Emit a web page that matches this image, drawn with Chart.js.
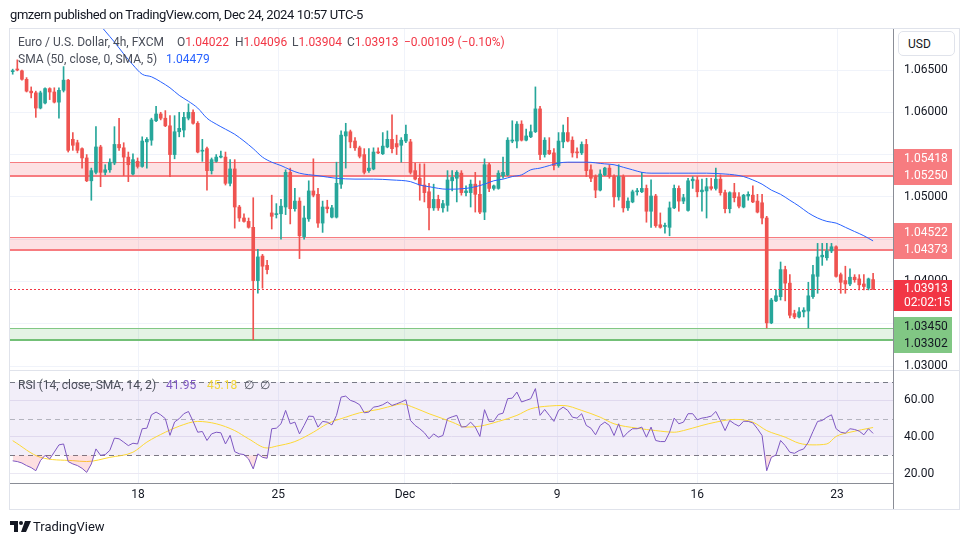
<!DOCTYPE html>
<html>
<head>
<meta charset="utf-8">
<script src="https://cdn.jsdelivr.net/npm/chart.js@4.4.1/dist/chart.umd.min.js"></script>
<style>
html,body{margin:0;padding:0;background:#ffffff;}
body{width:970px;height:545px;position:relative;overflow:hidden;font-family:Roboto,"Liberation Sans",Arial,sans-serif;color:#131722;}
#c{position:absolute;left:0;top:0;width:970px;height:545px;}
.t{position:absolute;white-space:nowrap;font-size:13px;line-height:16px;}
.lg{color:#4a4e59;font-size:12px;}
.rd{color:#f23645;}
.bl{color:#2962ff;}
.pu{color:#7e57c2;}
.ye{color:#f2d53c;}
#usd{position:absolute;left:898px;top:31px;width:57px;height:25px;border:1px solid #e0e3eb;border-radius:5px;box-sizing:border-box;background:#fff;}
</style>
</head>
<body>
<canvas id="c" width="970" height="545"></canvas>
<div class="t" style="left:10px;top:7px;letter-spacing:-0.42px;">gmzern published on TradingView.com, Dec 24, 2024 10:57 UTC-5</div>
<div class="t lg" style="left:18px;top:34px;">Euro / U.S. Dollar, 4h, FXCM</div>
<div class="t lg" style="left:177px;top:34px;">O<span class="rd">1.04022</span></div>
<div class="t lg" style="left:235px;top:34px;">H<span class="rd">1.04096</span></div>
<div class="t lg" style="left:292px;top:34px;">L<span class="rd">1.03904</span></div>
<div class="t lg" style="left:347px;top:34px;">C<span class="rd">1.03913</span></div>
<div class="t lg rd" style="left:404px;top:34px;">−0.00109 (−0.10%)</div>
<div class="t lg" style="left:18px;top:51px;">SMA (50, close, 0, SMA, 5)</div>
<div class="t lg bl" style="left:166px;top:51px;">1.04479</div>
<div class="t lg" style="left:18px;top:377px;">RSI (14, close, SMA, 14, 2)</div>
<div class="t lg pu" style="left:166px;top:377px;">41.95</div>
<div class="t lg ye" style="left:207px;top:377px;">45.18</div>
<div class="t lg" style="left:244px;top:377px;">∅&nbsp;&nbsp;∅</div>
<div id="usd"></div>
<div class="t" style="left:908px;top:36px;font-size:12px;">USD</div>
<svg style="position:absolute;left:10px;top:521px" width="22" height="12" viewBox="0 0 22 12">
<path d="M0 0H8V11H4V4H0Z" fill="#131722"/><circle cx="11" cy="2" r="2" fill="#131722"/><path d="M15 0H21L16 11H11Z" fill="#131722"/>
</svg>
<div class="t" style="left:33px;top:519px;font-size:13px;">TradingView</div>

<script>
// ---------- data (4h candles, EUR/USD) ----------
const open = [
1.0648,1.0651,1.0649,1.0639,1.0625,1.0623,1.0605,1.0611,1.0628,1.0624,
1.0612,1.0626,1.0638,1.0568,1.0564,1.0557,1.0546,1.0519,1.0529,1.0559,
1.0529,1.0532,1.0540,1.0562,1.0558,1.0547,1.0527,1.0542,1.0536,1.0565,
1.0567,1.0590,1.0598,1.0593,1.0584,1.0550,1.0577,1.0579,1.0593,1.0600,
1.0587,1.0554,1.0557,1.0531,1.0542,1.0547,1.0547,1.0516,1.0533,1.0488,
1.0475,1.0471,1.0464,1.0401,1.0430,1.0419,1.0481,1.0479,1.0480,1.0488,
1.0529,1.0486,1.0495,1.0453,1.0474,1.0507,1.0503,1.0469,1.0488,1.0476,
1.0476,1.0515,1.0572,1.0577,1.0566,1.0558,1.0550,1.0531,1.0533,1.0553,
1.0551,1.0559,1.0568,1.0563,1.0561,1.0566,1.0565,1.0531,1.0522,1.0514,
1.0506,1.0487,1.0497,1.0487,1.0490,1.0519,1.0522,1.0528,1.0505,1.0505,
1.0515,1.0503,1.0482,1.0538,1.0510,1.0510,1.0525,1.0526,1.0566,1.0566,
1.0586,1.0567,1.0571,1.0577,1.0604,1.0550,1.0555,1.0552,1.0537,1.0565,
1.0576,1.0567,1.0553,1.0552,1.0562,1.0532,1.0524,1.0508,1.0526,1.0534,
1.0524,1.0500,1.0524,1.0487,1.0494,1.0506,1.0506,1.0510,1.0483,1.0501,
1.0467,1.0465,1.0464,1.0487,1.0510,1.0495,1.0484,1.0519,1.0520,1.0506,
1.0507,1.0512,1.0510,1.0521,1.0505,1.0486,1.0505,1.0500,1.0488,1.0501,
1.0502,1.0495,1.0493,1.0475,1.0351,1.0377,1.0382,1.0414,1.0398,1.0362,
1.0358,1.0364,1.0365,1.0382,1.0406,1.0429,1.0428,1.0436,1.0441,1.0408,
1.0401,1.0397,1.0405,1.0403,1.0397,1.0392,1.04022];
const high = [
1.0651,1.0662,1.0650,1.0641,1.0630,1.0625,1.0625,1.0629,1.0629,1.0629,
1.0629,1.0654,1.0639,1.0576,1.0567,1.0558,1.0550,1.0534,1.0583,1.0561,
1.0538,1.0545,1.0583,1.0593,1.0564,1.0553,1.0551,1.0546,1.0571,1.0570,
1.0593,1.0607,1.0600,1.0602,1.0596,1.0596,1.0600,1.0600,1.0610,1.0603,
1.0589,1.0568,1.0559,1.0546,1.0550,1.0554,1.0553,1.0544,1.0544,1.0490,
1.0480,1.0475,1.0499,1.0438,1.0432,1.0425,1.0502,1.0492,1.0497,1.0532,
1.0534,1.0510,1.0499,1.0489,1.0519,1.0545,1.0510,1.0495,1.0496,1.0490,
1.0541,1.0578,1.0587,1.0579,1.0570,1.0560,1.0557,1.0557,1.0558,1.0558,
1.0576,1.0578,1.0597,1.0573,1.0570,1.0585,1.0568,1.0540,1.0539,1.0539,
1.0516,1.0515,1.0502,1.0496,1.0531,1.0531,1.0531,1.0531,1.0513,1.0520,
1.0529,1.0519,1.0545,1.0540,1.0514,1.0531,1.0547,1.0570,1.0590,1.0589,
1.0590,1.0580,1.0585,1.0630,1.0607,1.0570,1.0570,1.0557,1.0576,1.0585,
1.0594,1.0571,1.0558,1.0565,1.0568,1.0538,1.0526,1.0532,1.0535,1.0538,
1.0526,1.0538,1.0526,1.0499,1.0508,1.0510,1.0529,1.0514,1.0520,1.0503,
1.0481,1.0469,1.0494,1.0514,1.0513,1.0503,1.0522,1.0524,1.0524,1.0521,
1.0522,1.0522,1.0534,1.0526,1.0508,1.0506,1.0516,1.0505,1.0503,1.0506,
1.0513,1.0503,1.0503,1.0477,1.0380,1.0390,1.0423,1.0418,1.0408,1.0366,
1.0369,1.0369,1.0399,1.0419,1.0445,1.0445,1.0445,1.0445,1.0442,1.0410,
1.0418,1.0415,1.0408,1.0408,1.0408,1.0404,1.04096];
const low = [
1.0645,1.0649,1.0638,1.0624,1.0617,1.0594,1.0604,1.0610,1.0615,1.0611,
1.0593,1.0624,1.0553,1.0555,1.0552,1.0534,1.0518,1.0496,1.0527,1.0512,
1.0526,1.0529,1.0538,1.0555,1.0525,1.0518,1.0526,1.0534,1.0535,1.0534,
1.0561,1.0589,1.0591,1.0583,1.0524,1.0545,1.0571,1.0571,1.0591,1.0586,
1.0552,1.0542,1.0508,1.0527,1.0541,1.0546,1.0514,1.0513,1.0463,1.0471,
1.0470,1.0463,1.0331,1.0386,1.0392,1.0409,1.0462,1.0475,1.0450,1.0479,
1.0468,1.0483,1.0427,1.0450,1.0471,1.0500,1.0464,1.0458,1.0481,1.0475,
1.0475,1.0510,1.0534,1.0558,1.0555,1.0546,1.0527,1.0529,1.0532,1.0551,
1.0550,1.0558,1.0552,1.0550,1.0541,1.0564,1.0527,1.0520,1.0496,1.0494,
1.0461,1.0484,1.0484,1.0482,1.0483,1.0507,1.0494,1.0502,1.0501,1.0488,
1.0482,1.0480,1.0473,1.0506,1.0508,1.0509,1.0522,1.0525,1.0564,1.0558,
1.0566,1.0566,1.0570,1.0576,1.0544,1.0547,1.0550,1.0532,1.0535,1.0558,
1.0565,1.0547,1.0546,1.0550,1.0524,1.0518,1.0499,1.0507,1.0525,1.0522,
1.0488,1.0496,1.0482,1.0484,1.0493,1.0502,1.0505,1.0470,1.0464,1.0464,
1.0463,1.0457,1.0454,1.0486,1.0483,1.0492,1.0483,1.0510,1.0500,1.0483,
1.0475,1.0508,1.0508,1.0502,1.0481,1.0481,1.0494,1.0487,1.0487,1.0496,
1.0493,1.0481,1.0468,1.0345,1.0350,1.0376,1.0378,1.0377,1.0357,1.0356,
1.0357,1.0358,1.0345,1.0380,1.0386,1.0419,1.0425,1.0434,1.0405,1.0386,
1.0386,1.0395,1.0399,1.0390,1.0390,1.0390,1.03904];
const close = [
1.0649,1.0650,1.0639,1.0625,1.0623,1.0605,1.0623,1.0628,1.0624,1.0612,
1.0626,1.0638,1.0555,1.0561,1.0555,1.0546,1.0519,1.0531,1.0559,1.0529,
1.0532,1.0541,1.0562,1.0558,1.0547,1.0538,1.0544,1.0536,1.0566,1.0568,
1.0591,1.0598,1.0593,1.0584,1.0550,1.0577,1.0581,1.0594,1.0600,1.0587,
1.0553,1.0555,1.0531,1.0544,1.0547,1.0548,1.0516,1.0533,1.0488,1.0475,
1.0471,1.0464,1.0401,1.0429,1.0418,1.0414,1.0477,1.0480,1.0489,1.0529,
1.0486,1.0495,1.0454,1.0475,1.0507,1.0502,1.0469,1.0488,1.0486,1.0487,
1.0516,1.0573,1.0577,1.0565,1.0558,1.0548,1.0529,1.0534,1.0553,1.0552,
1.0560,1.0568,1.0557,1.0559,1.0567,1.0574,1.0529,1.0521,1.0514,1.0505,
1.0487,1.0497,1.0487,1.0492,1.0520,1.0523,1.0529,1.0505,1.0507,1.0515,
1.0503,1.0482,1.0538,1.0510,1.0513,1.0528,1.0529,1.0567,1.0567,1.0586,
1.0567,1.0572,1.0577,1.0604,1.0550,1.0567,1.0551,1.0537,1.0566,1.0576,
1.0566,1.0552,1.0552,1.0562,1.0531,1.0522,1.0508,1.0527,1.0534,1.0524,
1.0500,1.0524,1.0487,1.0495,1.0506,1.0507,1.0510,1.0483,1.0501,1.0466,
1.0464,1.0466,1.0487,1.0510,1.0495,1.0499,1.0519,1.0521,1.0506,1.0508,
1.0512,1.0510,1.0521,1.0505,1.0486,1.0505,1.0499,1.0489,1.0502,1.0503,
1.0494,1.0482,1.0475,1.0351,1.0378,1.0383,1.0414,1.0398,1.0360,1.0358,
1.0364,1.0366,1.0383,1.0408,1.0429,1.0431,1.0436,1.0441,1.0406,1.0399,
1.0397,1.0405,1.0402,1.0396,1.0394,1.0403,1.03913];

// SMA(50): bar index -> value
const smaBar = [18,20,22,24,26,28,30,32,34,36,38,40,42,44,46,48,50,52,54,56,58,60,62,66,70,74,78,82,86,88,90,94,98,100,102,104,106,108,110,112,114,116,118,120,124,128,130,132,134,136,138,142,146,150,154,156,158,160,162,164,166,168,170,172,174,176,178,180,182,184,186];
const smaVal = [1.0709,1.0696,1.0683,1.0669,1.0656,1.0645,1.0642,1.0636,1.0629,1.0620,1.0613,1.0605,1.0593,1.0586,1.0580,1.0574,1.0566,1.0557,1.0547,1.0541,1.0537,1.0532,1.0528,1.0525,1.0522,1.0521,1.0521,1.0520,1.0518,1.0514,1.0512,1.0509,1.0510,1.0512,1.0515,1.0519,1.0521,1.0524,1.0526,1.0532,1.0534,1.0537,1.0540,1.0541,1.0541,1.0539,1.0538,1.0535,1.0532,1.0529,1.0528,1.0528,1.0528,1.0528,1.0527,1.0526,1.0524,1.0520,1.0515,1.0508,1.0503,1.0496,1.0489,1.0481,1.0475,1.0471,1.0469,1.0464,1.0459,1.0454,1.04479];

// RSI(14) per bar
const rsi = [
27.0,26.6,25.8,24.4,23.3,21.6,27.1,30.0,28.0,31.8,
35.7,36.2,26.6,25.3,24.4,22.9,20.7,25.3,33.5,30.0,
30.4,32.7,39.4,39.0,37.2,35.3,36.6,36.2,44.5,44.8,
52.1,53.6,52.1,50.0,40.9,48.2,50.0,52.7,53.9,48.5,
42.6,43.0,38.1,41.7,42.6,42.3,36.2,40.9,32.0,30.8,
30.4,28.0,22.6,30.8,28.9,28.4,44.5,44.8,47.2,54.5,
47.2,48.1,41.7,46.3,51.4,51.2,45.4,48.5,48.1,46.6,
51.8,61.8,62.3,60.0,59.1,57.6,53.2,53.6,56.3,56.7,
57.6,59.1,57.2,58.1,59.1,60.3,49.0,46.3,44.5,42.3,
39.0,41.7,39.9,40.8,50.0,51.0,51.8,45.4,45.7,48.1,
45.4,40.3,54.9,48.5,48.6,52.3,53.0,60.9,61.2,64.5,
59.1,60.0,60.9,66.4,51.8,55.0,51.8,48.5,54.5,56.3,
54.5,50.8,50.3,52.7,46.3,44.8,41.2,46.3,48.1,46.3,
40.8,47.2,39.9,42.6,44.5,44.5,45.4,39.9,45.4,38.1,
37.5,37.5,42.6,50.3,47.2,48.1,52.7,52.7,49.4,50.3,
50.7,51.4,53.9,49.0,43.5,49.0,47.2,45.9,48.6,48.5,
47.7,44.5,40.8,21.6,28.9,30.2,38.1,35.3,31.7,31.1,
32.6,33.5,37.2,43.0,48.5,49.0,50.8,52.1,44.5,42.6,
42.1,44.5,44.1,43.2,41.2,44.5,41.95];

// RSI-based SMA
const rsiSmaBar = [0,6,13,16,21,26,29,33,36,40,44,48,51,55,57,61,65,68,72,75,79,83,84,87,90,93,95,98,101,105,109,112,116,119,123,127,130,135,139,143,145,149,152,156,160,163,167,170,173,176,178,181,186];
const rsiSmaVal = [38,28.9,27.1,26.6,28.9,31.7,37.2,42.6,45.9,48.5,47.2,43.5,39,34,35,37.5,42.6,47.2,50.8,53.2,55,57.6,58.1,55.8,52.7,50,48.1,45.4,45.9,48.5,51.8,55.4,56.9,57.2,54.5,50.8,47.2,44.8,43.5,42.6,43.5,46.3,48.1,49.6,48.1,43.5,39.9,36.6,35.7,36.2,40.3,42.6,45.18];

// zones (top / bottom prices)
const zoneTop = [1.05418, 1.04522, 1.03450];
const zoneBottom = [1.05250, 1.04373, 1.03302];
const zoneKind = ['res', 'res', 'sup'];
const lastPrice = 1.03913;
const countdown = '02:02:15';

// axis ticks
const priceTicks = [1.030, 1.035, 1.040, 1.045, 1.050, 1.055, 1.060, 1.065];
const rsiTicks = [20, 40, 60];
const rsiLevels = [70, 50, 30];
const timeTickBar = [27.1, 57.4, 84.8, 117.7, 148, 178.2];
const timeTickText = ['18', '25', 'Dec', '9', '16', '23'];

// ---------- chart ----------
const FONT = 'Roboto, "Liberation Sans", Arial, sans-serif';
const UP = '#26a69a', DOWN = '#ef5350';
const bars = open.map((_, i) => i);
const candleColor = bars.map(i => close[i] >= open[i] ? UP : DOWN);

const deco = {
  id: 'deco',
  beforeDatasetsDraw(chart) {
    const {ctx, chartArea: ca, scales} = chart;
    const ys = scales.y, rs = scales.rsi;
    const L = ca.left, W = ca.right - ca.left;
    ctx.save();
    // RSI band
    const y70 = rs.getPixelForValue(rsiLevels[0]);
    const y50 = rs.getPixelForValue(rsiLevels[1]);
    const y30 = rs.getPixelForValue(rsiLevels[2]);
    ctx.fillStyle = 'rgba(126,87,194,0.10)';
    ctx.fillRect(L, y70, W, y30 - y70);
    ctx.lineWidth = 1;
    ctx.setLineDash([5, 4]);
    ctx.strokeStyle = '#787b86';
    [y70, y30].forEach(yy => { ctx.beginPath(); ctx.moveTo(L, Math.round(yy) + 0.5); ctx.lineTo(L + W, Math.round(yy) + 0.5); ctx.stroke(); });
    ctx.strokeStyle = 'rgba(120,123,134,0.5)';
    ctx.beginPath(); ctx.moveTo(L, Math.round(y50) + 0.5); ctx.lineTo(L + W, Math.round(y50) + 0.5); ctx.stroke();
    ctx.setLineDash([]);
    // zones
    zoneTop.forEach((t, k) => {
      const yt = Math.round(ys.getPixelForValue(t));
      const yb = Math.round(ys.getPixelForValue(zoneBottom[k]));
      const sup = zoneKind[k] === 'sup';
      ctx.fillStyle = sup ? 'rgba(76,175,80,0.15)' : 'rgba(242,54,69,0.15)';
      ctx.fillRect(L, yt, W, yb - yt);
      ctx.fillStyle = sup ? '#81c784' : '#f77c80';
      ctx.fillRect(L, yt, W, 1);
      ctx.fillStyle = sup ? '#73c077' : '#f77c80';
      ctx.fillRect(L, yb - 1, W, 2);
    });
    ctx.restore();
  },
  afterDraw(chart) {
    const {ctx, chartArea: ca, scales} = chart;
    const ys = scales.y;
    ctx.save();
    // last price dotted line
    const yl = Math.round(ys.getPixelForValue(lastPrice));
    ctx.fillStyle = 'rgb(242,54,69)';
    for (let x = ca.left; x < ca.right; x += 4) ctx.fillRect(x, yl, 2, 1);
    // frame
    ctx.strokeStyle = '#e0e3eb';
    ctx.lineWidth = 1;
    ctx.strokeRect(9.5, 28.5, 950, 481);
    ctx.beginPath(); ctx.moveTo(ca.left, scales.rsi.top + 0.5); ctx.lineTo(959, scales.rsi.top + 0.5); ctx.stroke();
    ctx.strokeStyle = '#8a8d96';
    ctx.beginPath(); ctx.moveTo(ca.right + 0.5, 29); ctx.lineTo(ca.right + 0.5, 509); ctx.stroke();
    ctx.beginPath(); ctx.moveTo(ca.left, ca.bottom + 0.5); ctx.lineTo(ca.right, ca.bottom + 0.5); ctx.stroke();
    // labels
    ctx.font = '12px ' + FONT;
    ctx.textBaseline = 'middle';
    ctx.textAlign = 'left';
    const bx = ca.right + 1, bw = 58, tx = ca.right + 11;
    zoneTop.forEach((t, k) => {
      let a = ys.getPixelForValue(t), b = ys.getPixelForValue(zoneBottom[k]);
      const sup = zoneKind[k] === 'sup';
      if (b - a < 17) {
        if (sup) { const m = (a + b) / 2 + 1; a = m - 8.5; b = m + 8.5; }
        else { a = b - 17; }
      }
      ctx.fillStyle = sup ? '#81c784' : '#f77c80';
      ctx.fillRect(bx, Math.round(a - 9.5), bw, Math.round(b - a + 18.5));
      ctx.fillStyle = sup ? '#131722' : '#ffffff';
      ctx.fillText(t.toFixed(5), tx, a + 0.5);
      ctx.fillText(zoneBottom[k].toFixed(5), tx, b + 0.5);
    });
    const yc = ys.getPixelForValue(lastPrice);
    ctx.fillStyle = '#f23645';
    ctx.fillRect(bx, Math.round(yc - 8.5), bw, 31);
    ctx.fillStyle = '#ffffff';
    ctx.fillText(lastPrice.toFixed(5), tx, yc + 0.5);
    ctx.fillText(countdown, tx, yc + 14.5);
    ctx.restore();
  }
};

Chart.defaults.font.family = FONT;
new Chart(document.getElementById('c'), {
  type: 'bar',
  data: {
    datasets: [
      {type: 'bar', data: bars.map(i => ({x: i, y: [low[i], high[i]]})), backgroundColor: candleColor,
       barThickness: 1, grouped: false, yAxisID: 'y', order: 4},
      {type: 'bar', data: bars.map(i => ({x: i, y: [open[i], close[i]]})), backgroundColor: candleColor,
       barThickness: 3, minBarLength: 1, grouped: false, yAxisID: 'y', order: 3},
      {type: 'line', data: smaBar.map((b, k) => ({x: b, y: smaVal[k]})), borderColor: '#2962ff', borderWidth: 1,
       pointRadius: 0, cubicInterpolationMode: 'monotone', yAxisID: 'y', order: 1},
      {type: 'line', data: rsiSmaBar.map((b, k) => ({x: b, y: rsiSmaVal[k]})), borderColor: '#fdd835', borderWidth: 1,
       pointRadius: 0, cubicInterpolationMode: 'monotone', yAxisID: 'rsi', order: 2},
      {type: 'line', data: bars.map(i => ({x: i, y: rsi[i]})), borderColor: '#7e57c2', borderWidth: 1,
       pointRadius: 0, yAxisID: 'rsi', order: 0,
       fill: {target: {value: 30}, above: 'rgba(0,0,0,0)', below: 'rgba(242,54,69,0.16)'}}
    ]
  },
  options: {
    responsive: false, animation: false, devicePixelRatio: 1, events: [],
    layout: {padding: {left: 10, top: 29, right: 10, bottom: 36}},
    plugins: {legend: {display: false}, tooltip: {enabled: false}},
    scales: {
      x: {type: 'linear', offset: false, min: -0.58, max: 190.3,
          afterBuildTicks: s => { s.ticks = timeTickBar.map(v => ({value: v})); },
          afterFit: s => { s.height = 26; },
          ticks: {autoSkip: false, maxRotation: 0, padding: 5, color: '#131722', font: {size: 12},
                  callback: (v, i) => timeTickText[i]},
          grid: {color: '#f0f3fa', drawTicks: false, offset: false}, border: {display: false}},
      y: {type: 'linear', position: 'right', stack: 'pane', stackWeight: 341, weight: 0,
          min: 1.029528, max: 1.069848,
          afterBuildTicks: s => { s.ticks = priceTicks.map(v => ({value: v})); },
          afterFit: s => { s.width = 67; },
          ticks: {padding: 11, color: '#131722', font: {size: 12}, callback: v => v.toFixed(5)},
          grid: {color: '#f0f3fa', drawTicks: false}, border: {display: false}},
      rsi: {type: 'linear', position: 'right', stack: 'pane', stackWeight: 113, weight: 1,
          min: 14.9, max: 76.55,
          afterBuildTicks: s => { s.ticks = rsiTicks.map(v => ({value: v})); },
          afterFit: s => { s.width = 67; },
          ticks: {padding: 11, color: '#131722', font: {size: 12}, callback: v => v.toFixed(2)},
          grid: {color: '#ebe8f3', drawTicks: false}, border: {display: false}}
    }
  },
  plugins: [deco]
});
</script>
</body>
</html>
